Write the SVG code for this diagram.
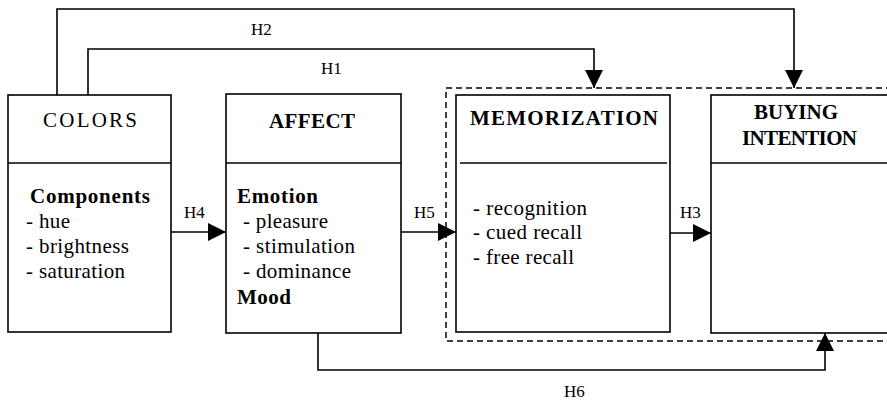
<svg xmlns="http://www.w3.org/2000/svg" width="887" height="403" viewBox="0 0 887 403" font-family="'Liberation Serif', 'DejaVu Serif', serif">
<defs>
<style>
.box{fill:#fff;stroke:#000;stroke-width:1.6}
.div{stroke:#000;stroke-width:1.6}
.con{fill:none;stroke:#000;stroke-width:1.6}
.dash{fill:none;stroke:#000;stroke-width:1.5;stroke-dasharray:6 4}
text{font-family:'Liberation Serif','DejaVu Serif',serif;fill:#000}
.title{font-size:21px;font-weight:bold}
.reg{font-weight:normal}
.body{font-size:21px}
.bold{font-size:21px;font-weight:bold}
.lab{font-size:17px}
</style>
<marker id="arr" markerUnits="userSpaceOnUse" markerWidth="20" markerHeight="20" refX="18" refY="9" orient="auto">
<path d="M0,0 L18,9 L0,18 Z" fill="#000"/>
</marker>
</defs>
<rect width="887" height="403" fill="#fff"/>

<path class="dash" d="M892 88 H446 V341 H892"/>

<g id="colors">
<rect class="box" x="8" y="95" width="163" height="237"/>
<line class="div" x1="8" y1="163" x2="171" y2="163"/>
<text class="title reg" x="43" y="127" textLength="94">COLORS</text>
<text class="bold" x="30" y="203" textLength="120">Components</text>
<text class="body" x="26" y="228" textLength="44">- hue</text>
<text class="body" x="26" y="253" textLength="103">- brightness</text>
<text class="body" x="26" y="278" textLength="99">- saturation</text>
</g>

<g id="affect">
<rect class="box" x="226" y="94" width="175" height="239"/>
<line class="div" x1="226" y1="163" x2="401" y2="163"/>
<text class="title" x="269" y="128" textLength="86">AFFECT</text>
<text class="bold" x="237" y="203" textLength="81">Emotion</text>
<text class="body" x="243" y="228" textLength="85">- pleasure</text>
<text class="body" x="243" y="253" textLength="112">- stimulation</text>
<text class="body" x="243" y="278" textLength="108">- dominance</text>
<text class="bold" x="237" y="304" textLength="54">Mood</text>
</g>

<g id="memorization">
<rect class="box" x="456" y="95" width="214" height="237"/>
<line class="div" x1="460" y1="163" x2="667" y2="163"/>
<text class="title" x="470" y="125" textLength="188">MEMORIZATION</text>
<text class="body" x="473" y="215" textLength="114">- recognition</text>
<text class="body" x="473" y="239" textLength="109">- cued recall</text>
<text class="body" x="473" y="264" textLength="101">- free recall</text>
</g>

<g id="buying">
<rect class="box" x="711" y="95" width="184" height="238"/>
<line class="div" x1="711" y1="163" x2="895" y2="163"/>
<text class="title" x="796" y="119" text-anchor="middle">BUYING</text>
<text class="title" x="742" y="145" textLength="115">INTENTION</text>
</g>

<g id="connectors">
<path class="con" d="M57 95 V9 H794 V88" marker-end="url(#arr)"/>
<path class="con" d="M88 95 V49 H594 V88" marker-end="url(#arr)"/>
<path class="con" d="M171 232 H226" marker-end="url(#arr)"/>
<path class="con" d="M401 232 H456" marker-end="url(#arr)"/>
<path class="con" d="M670 233 H711" marker-end="url(#arr)"/>
<path class="con" d="M318 333 V370 H825 V333" marker-end="url(#arr)"/>
<text class="lab" x="251" y="35">H2</text>
<text class="lab" x="321" y="74">H1</text>
<text class="lab" x="184" y="218">H4</text>
<text class="lab" x="414" y="218">H5</text>
<text class="lab" x="680" y="218">H3</text>
<text class="lab" x="564" y="397">H6</text>
</g>
</svg>
